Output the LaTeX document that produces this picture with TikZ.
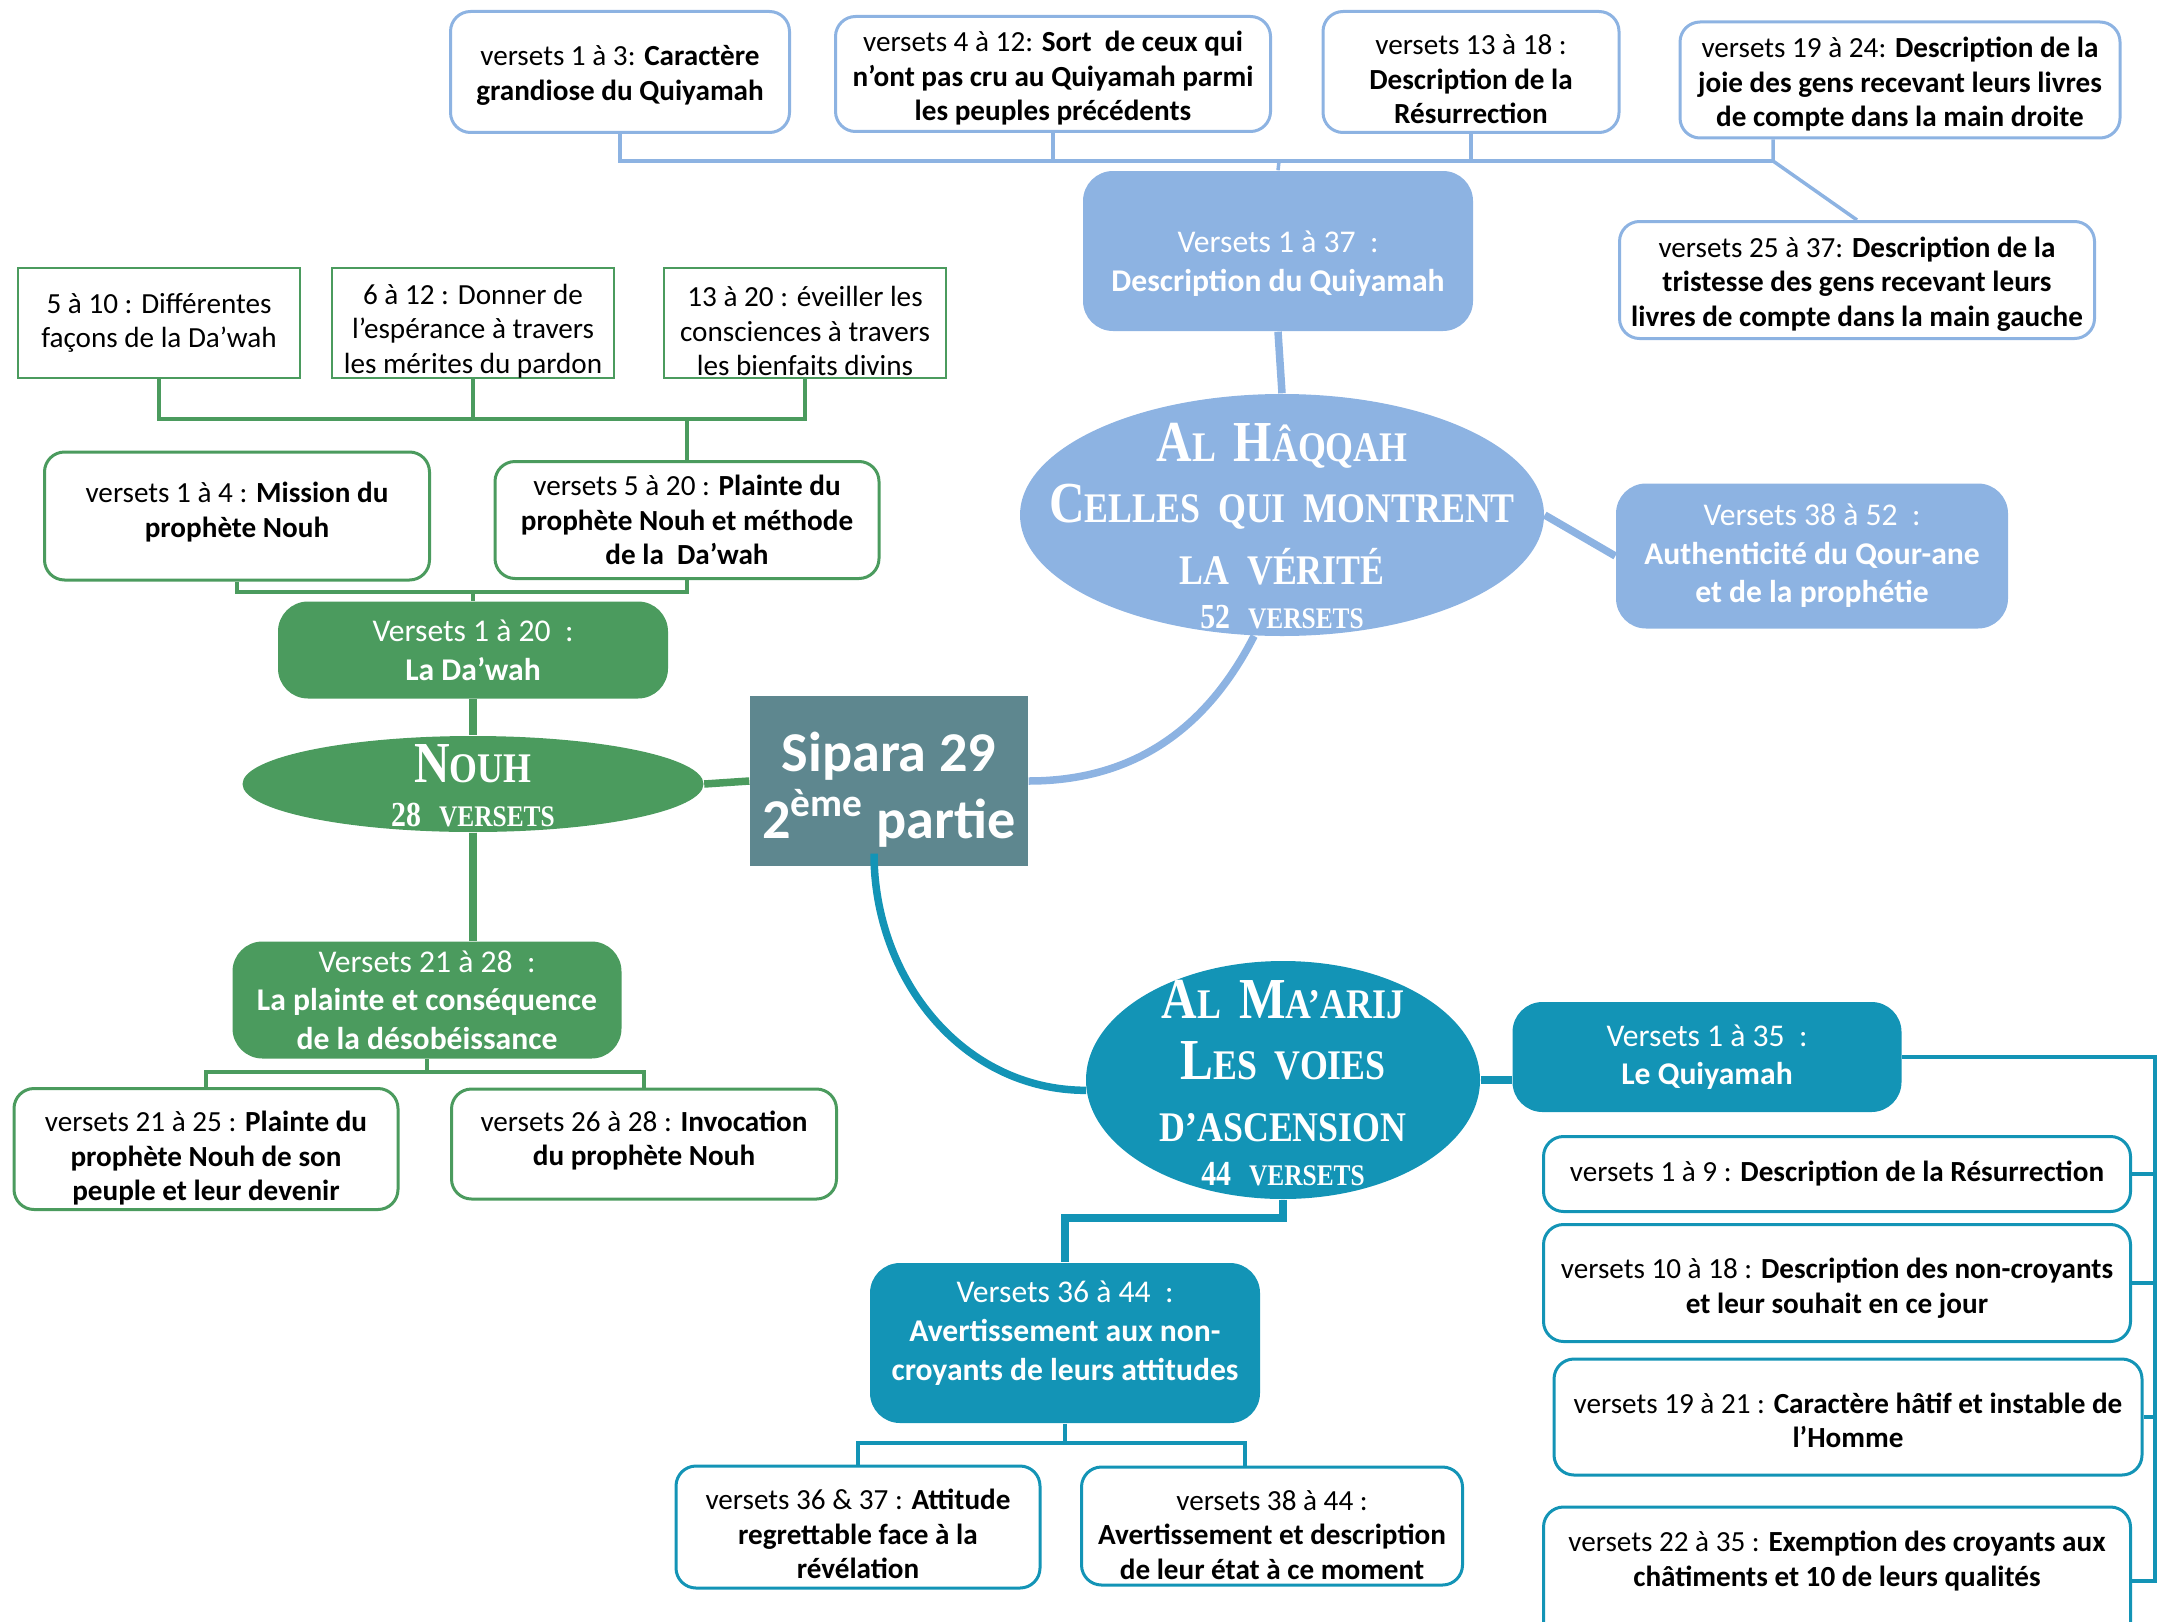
\documentclass[tikz,border=0pt]{standalone}
\usepackage{fontspec}
\setmainfont{Carlito}
\newfontfamily\titlefont[FakeStretch=0.85]{Liberation Serif}
\usetikzlibrary{positioning, shapes.geometric, calc}
\definecolor{haqblue}{HTML}{8DB3E2}
\definecolor{marteal}{HTML}{1394B6}
\definecolor{nouhgreen}{HTML}{4B9B5E}
\definecolor{siparagrey}{HTML}{5E878F}
\newcommand{\capinit}[1]{{\fontsize{16.5}{17.5}\selectfont #1}}
\newcommand{\nbvers}[2]{{\fontsize{10}{12}\selectfont #1}\ \ {\fontsize{8.5}{12}\selectfont #2}}

\begin{document}
\begin{tikzpicture}[
    x=0.1mm, y=-0.1mm,
    leaf/.style={draw=#1, line width=0.3mm, fill=white, rounded corners=2mm, align=center, inner sep=0pt, font=\fontsize{8.3}{9.8}\selectfont},
    note/.style={draw=nouhgreen, line width=0.25mm, fill=white, align=center, inner sep=0pt, font=\fontsize{8.3}{9.8}\selectfont},
    topic/.style={fill=#1, rounded corners=3mm, align=center, inner sep=0pt, text=white, font=\fontsize{9}{11}\selectfont},
    sura/.style={ellipse, fill=#1, inner sep=0pt},
    suratext/.style={align=center, inner sep=0pt, text=white, font=\titlefont\bfseries\fontsize{12}{17.5}\selectfont},
    bus/.style={draw=#1, line width=0.35mm},
    trunk/.style={draw=#1, line width=0.75mm},
]
    \useasboundingbox (0,0) rectangle (2158,1621);

    % Centre
    \node[fill=siparagrey, minimum width=27.8mm, minimum height=17mm, inner sep=0pt, align=center, text=white,
          text height=35pt, font=\bfseries\fontsize{16}{19}\selectfont] (sip) at (889,781) {Sipara 29\\2\textsuperscript{ème} partie};

    % Al Haqqah
    \node[sura=haqblue, minimum width=52.4mm, minimum height=24.2mm] (hq) at (1282,515) {};
    \node[suratext] (hqt) at (1282,526)
        {\capinit{A}L\ \ \capinit{H}ÂQQAH\\\capinit{C}ELLES\ \ QUI\ \ MONTRENT\\LA\ \ VÉRITÉ\\[-5pt]\nbvers{52}{VERSETS}};
    \node[topic=haqblue, minimum width=39mm, minimum height=16mm, text height=24.5pt] (hq1) at (1278,251)
        {Versets 1 à 37\ \ :\\\textbf{Description du Quiyamah}};
    \node[topic=haqblue, minimum width=39.2mm, minimum height=14.5mm] (hq2) at (1812,556)
        {Versets 38 à 52\ \ :\\\textbf{Authenticité du Qour-ane}\\\textbf{et de la prophétie}};

    \node[leaf=haqblue, minimum width=33.9mm, minimum height=12.1mm, text height=17.4pt] (ta) at (620,72)
        {versets 1 à 3: \textbf{Caractère}\\\textbf{grandiose du Quiyamah}};
    \node[leaf=haqblue, minimum width=43.5mm, minimum height=11.5mm, text height=27.9pt] (tb) at (1053,74)
        {versets 4 à 12: \textbf{Sort\ \ de ceux qui}\\\textbf{n’ont pas cru au Quiyamah parmi}\\\textbf{les peuples précédents}};
    \node[leaf=haqblue, minimum width=29.6mm, minimum height=12.1mm, text height=29.5pt] (tc) at (1471,72)
        {versets 13 à 18 :\\\textbf{Description de la}\\\textbf{Résurrection}};
    \node[leaf=haqblue, minimum width=44mm, minimum height=11.6mm, text height=27.9pt] (td) at (1900,80)
        {versets 19 à 24: \textbf{Description de la}\\\textbf{joie des gens recevant leurs livres}\\\textbf{de compte dans la main droite}};
    \node[leaf=haqblue, minimum width=47.5mm, minimum height=11.7mm, text height=27.6pt] (te) at (1857,280)
        {versets 25 à 37: \textbf{Description de la}\\\textbf{tristesse des gens recevant leurs}\\\textbf{livres de compte dans la main gauche}};

    \coordinate (hqjoin) at (1279,161);
    \coordinate (tdjoin) at (1773,161);
    \draw[bus=haqblue] (ta.south) |- (tdjoin);
    \draw[bus=haqblue] (tb.south) -- (tb.south |- hqjoin);
    \draw[bus=haqblue] (tc.south) -- (tc.south |- hqjoin);
    \draw[bus=haqblue] (td.south -| tdjoin) -- (tdjoin) -- (te.north);
    \draw[bus=haqblue] (hqjoin) -- (hq1.north);
    \draw[trunk=haqblue] (hq1.south) -- (hq.north);
    \draw[trunk=haqblue] (hq.east) -- (hq2.west);
    \draw[trunk=haqblue] (sip.east) to[out=0, in=-117] (hq.-103);

    % Nouh
    \node[sura=nouhgreen, minimum width=46.1mm, minimum height=9.6mm] (nh) at (473,784) {};
    \node[suratext] (nht) at (473,786) {\capinit{N}OUH\\[-5pt]\nbvers{28}{VERSETS}};
    \node[topic=nouhgreen, minimum width=39mm, minimum height=9.7mm] (n1) at (473,650)
        {Versets 1 à 20\ \ :\\\textbf{La Da’wah}};
    \node[topic=nouhgreen, minimum width=38.9mm, minimum height=11.7mm] (n2) at (427,1000)
        {Versets 21 à 28\ \ :\\\textbf{La plainte et conséquence}\\\textbf{de la désobéissance}};

    \node[leaf=nouhgreen, minimum width=38.5mm, minimum height=12.8mm, text height=13.5pt] (n1a) at (237,516)
        {versets 1 à 4 : \textbf{Mission du}\\\textbf{prophète Nouh}};
    \node[leaf=nouhgreen, minimum width=38.4mm, minimum height=11.7mm] (n1b) at (687,520)
        {versets 5 à 20 : \textbf{Plainte du}\\\textbf{prophète Nouh et méthode}\\\textbf{de la\ \ Da’wah}};
    \node[note, minimum width=28.2mm, minimum height=11mm] (g1) at (159,323)
        {5 à 10 : Différentes\\façons de la Da’wah};
    \node[note, minimum width=28.2mm, minimum height=11mm, text height=30pt] (g2) at (473,323)
        {6 à 12 : Donner de\\l’espérance à travers\\les mérites du pardon};
    \node[note, minimum width=28.2mm, minimum height=11mm, text height=30pt] (g3) at (805,323)
        {13 à 20 : éveiller les\\consciences à travers\\les bienfaits divins};
    \node[leaf=nouhgreen, minimum width=38.4mm, minimum height=12.1mm, text height=30.6pt] (n2a) at (206,1149)
        {versets 21 à 25 : \textbf{Plainte du}\\\textbf{prophète Nouh de son}\\\textbf{peuple et leur devenir}};
    \node[leaf=nouhgreen, minimum width=38.5mm, minimum height=11mm, text height=13.5pt] (n2b) at (644,1144)
        {versets 26 à 28 : \textbf{Invocation}\\\textbf{du prophète Nouh}};

    \coordinate (gbus) at (687,419);
    \coordinate (n1bus) at (473,592);
    \coordinate (n2bus) at (427,1072);
    \draw[bus=nouhgreen] (g1.south) |- (gbus) -| (g3.south);
    \draw[bus=nouhgreen] (g2.south) -- (g2.south |- gbus);
    \draw[bus=nouhgreen] (gbus) -- (n1b.north);
    \draw[bus=nouhgreen] (n1a.south) |- (n1bus) -| (n1b.south);
    \draw[bus=nouhgreen] (n1bus) -- (n1.north);
    \draw[bus=nouhgreen] (n2.south) -- (n2bus);
    \draw[bus=nouhgreen] (n2a.north) |- (n2bus) -| (n2b.north);
    \draw[trunk=nouhgreen] (n1.south) -- (nh.north);
    \draw[trunk=nouhgreen] (nh.east) -- (sip.west);
    \draw[trunk=nouhgreen] (nh.south) -- (nh.south |- n2.north);

    % Al Ma'arij
    \node[sura=marteal, minimum width=39.4mm, minimum height=23.8mm] (ma) at (1283,1080) {};
    \node[suratext] (mat) at (1283,1083)
        {\capinit{A}L\ \ \capinit{M}A’ARIJ\\\capinit{L}ES\ \ VOIES\\D’ASCENSION\\[-5pt]\nbvers{44}{VERSETS}};
    \node[topic=marteal, minimum width=38.9mm, minimum height=11mm] (m1) at (1707,1057)
        {Versets 1 à 35\ \ :\\\textbf{Le Quiyamah}};
    \node[topic=marteal, minimum width=39mm, minimum height=16mm, text depth=7pt] (m2) at (1065,1343)
        {Versets 36 à 44\ \ :\\\textbf{Avertissement aux non-}\\\textbf{croyants de leurs attitudes}};

    \node[leaf=marteal, minimum width=58.7mm, minimum height=7.5mm] (r1) at (1837,1174)
        {versets 1 à 9 : \textbf{Description de la Résurrection}};
    \node[leaf=marteal, minimum width=58.7mm, minimum height=11.7mm, text height=18.5pt] (r2) at (1837,1283)
        {versets 10 à 18 : \textbf{Description des non-croyants}\\\textbf{et leur souhait en ce jour}};
    \node[leaf=marteal, minimum width=58.8mm, minimum height=11.6mm, text height=17.4pt] (r3) at (1848,1417)
        {versets 19 à 21 : \textbf{Caractère hâtif et instable de}\\\textbf{l’Homme}};
    \node[leaf=marteal, minimum width=58.7mm, minimum height=14.8mm] (r4) at (1837,1581) {};
    \node[font=\fontsize{8.3}{9.8}\selectfont, align=center, inner sep=0pt] (r4t) at (1837,1561)
        {versets 22 à 35 : \textbf{Exemption des croyants aux}\\\textbf{châtiments et 10 de leurs qualités}};
    \node[leaf=marteal, minimum width=36.4mm, minimum height=12.2mm, text height=29.5pt] (m2a) at (858,1527)
        {versets 36 \& 37 : \textbf{Attitude}\\\textbf{regrettable face à la}\\\textbf{révélation}};
    \node[leaf=marteal, minimum width=38.1mm, minimum height=11.8mm, text height=30.3pt] (m2b) at (1272,1526)
        {versets 38 à 44 :\\\textbf{Avertissement et description}\\\textbf{de leur état à ce moment}};

    \coordinate (rbus) at (2155,1057);
    \coordinate (mbend) at (1283,1218);
    \coordinate (m2bus) at (1065,1443);
    \draw[bus=marteal] (m1.east) -- (rbus) |- (r4.east);
    \draw[bus=marteal] (r1.east) -- (r1.east -| rbus);
    \draw[bus=marteal] (r2.east) -- (r2.east -| rbus);
    \draw[bus=marteal] (r3.east) -- (r3.east -| rbus);
    \draw[bus=marteal] (m2.south) -- (m2bus);
    \draw[bus=marteal] (m2a.north) |- (m2bus) -| ([xshift=-2.7mm]m2b.north);
    \draw[trunk=marteal] (ma.east) -- (ma.east -| m1.west);
    \draw[trunk=marteal] (ma.south) -- (mbend) -| (m2.north);
    \draw[trunk=marteal] ([shift={(-15,-13)}]sip.south) to[out=-90, in=180] (ma.183);

\end{tikzpicture}
\end{document}
